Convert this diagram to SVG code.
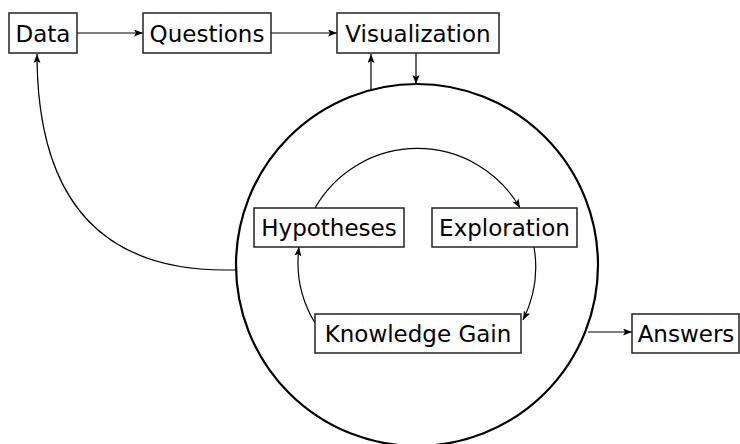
<svg xmlns="http://www.w3.org/2000/svg" width="740" height="444" viewBox="0 0 740 444">
<defs>
<marker id="ah" markerWidth="10" markerHeight="8" refX="9" refY="3.5" orient="auto" markerUnits="userSpaceOnUse">
<path d="M0,0 L9,3.5 L0,7 L2,3.5 z" fill="#000"/>
</marker>
<style>
.box{fill:#fff;stroke:#222;stroke-width:1.5}
.lbl{font-family:"DejaVu Sans",Verdana,sans-serif;font-size:23px;fill:#000;text-anchor:middle}
.c{fill:none;stroke:#000;stroke-width:1.2;marker-end:url(#ah)}
</style>
</defs>
<rect width="740" height="444" fill="#fff"/>
<circle id="cycle" cx="417" cy="265" r="181" fill="none" stroke="#000" stroke-width="2.2"/>
<g id="connectors">
<path class="c" d="M77,33 L143,33"/>
<path class="c" d="M271,33 L337,33"/>
<path class="c" d="M371,89 L371,54"/>
<path class="c" d="M416,53 L416,84"/>
<path class="c" d="M236,270 L225,270 C112,270 37,212 37,54"/>
<path class="c" d="M588,332 L632,332"/>
<path class="c" d="M315,208 A118,118 0 0 1 520,208"/>
<path class="c" d="M534,247 A118,118 0 0 1 523,320"/>
<path class="c" d="M315,323 A118,118 0 0 1 299,247"/>
</g>
<g id="data"><rect class="box" x="9" y="13" width="68" height="40"/><text class="lbl" x="43" y="42">Data</text></g>
<g id="questions"><rect class="box" x="143" y="13" width="128" height="40"/><text class="lbl" x="207" y="42">Questions</text></g>
<g id="visualization"><rect class="box" x="337" y="13" width="162" height="40"/><text class="lbl" x="418" y="42">Visualization</text></g>
<g id="hypotheses"><rect class="box" x="254" y="208" width="150" height="39"/><text class="lbl" x="329" y="236">Hypotheses</text></g>
<g id="exploration"><rect class="box" x="432" y="208" width="145" height="39"/><text class="lbl" x="504.5" y="236">Exploration</text></g>
<g id="knowledge"><rect class="box" x="315" y="314" width="206" height="39"/><text class="lbl" x="418" y="342">Knowledge Gain</text></g>
<g id="answers"><rect class="box" x="632" y="314" width="107" height="39"/><text class="lbl" x="686" y="342">Answers</text></g>
</svg>
